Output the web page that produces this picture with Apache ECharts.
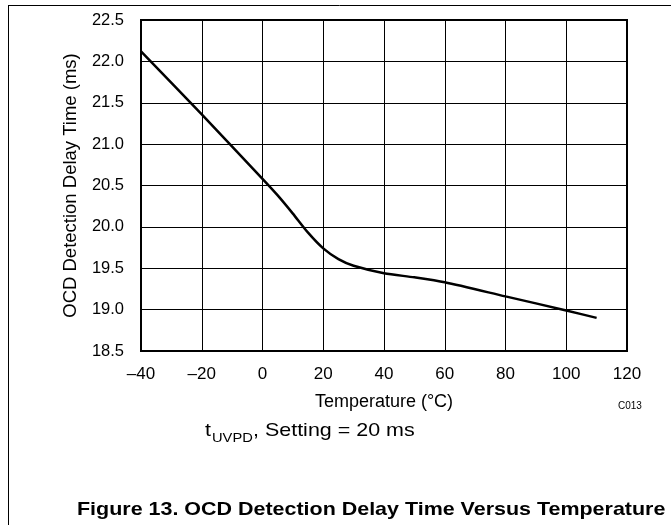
<!DOCTYPE html>
<html>
<head>
<meta charset="utf-8">
<script src="https://cdn.jsdelivr.net/npm/echarts@6/dist/echarts.min.js"></script>
<style>
  html, body { margin: 0; padding: 0; background: #fff; }
  #delayChart { width: 671px; height: 525px; }
</style>
</head>
<body>
<div id="delayChart"></div>
<script>
// temperature (°C) and OCD detection delay (ms)
const temps = [-40, -20, 0, 5, 10, 15, 20, 25, 30, 40, 50, 60, 80, 100, 110]
const delays = [22.12, 21.36, 20.58, 20.38, 20.16, 19.93, 19.74, 19.61, 19.53, 19.44, 19.39, 19.33, 19.16, 18.99, 18.90]
const yTicks = [18.5, 19.0, 19.5, 20.0, 20.5, 21.0, 21.5, 22.0, 22.5]
const xTicks = [-40, -20, 0, 20, 40, 60, 80, 100, 120]

const chart = echarts.init(document.getElementById('delayChart'))

const font = 'Liberation Sans, Arial, sans-serif'

const option = {
  backgroundColor: '#fff',
  animation: false,
  grid: {
    left: 141,
    right: 44,
    top: 20,
    bottom: 174
  },
  xAxis: {
    type: 'value',
    min: xTicks[0],
    max: xTicks[xTicks.length - 1],
    interval: 20,
    name: 'Temperature (°C)',
    nameLocation: 'middle',
    nameGap: 42,
    nameTextStyle: {
      fontFamily: font,
      fontSize: 18,
      color: '#000'
    },
    axisLine: { show: false },
    axisTick: { show: false },
    axisLabel: {
      fontFamily: font,
      fontSize: 17,
      color: '#000',
      margin: 15,
      formatter: v => (v < 0 ? '\u2013' + Math.abs(v) : String(v))
    },
    splitLine: { show: true, lineStyle: { color: '#000', width: 1 } }
  },
  yAxis: {
    type: 'value',
    min: yTicks[0],
    max: yTicks[yTicks.length - 1],
    interval: 0.5,
    name: 'OCD Detection Delay Time (ms)',
    nameLocation: 'middle',
    nameGap: 61,
    nameTextStyle: {
      fontFamily: font,
      fontSize: 18.5,
      color: '#000'
    },
    axisLine: { show: false },
    axisTick: { show: false },
    axisLabel: {
      fontFamily: font,
      fontSize: 16.5,
      color: '#000',
      margin: 17,
      formatter: v => v.toFixed(1)
    },
    splitLine: { show: true, lineStyle: { color: '#000', width: 1 } }
  },
  series: [
    {
      type: 'line',
      data: temps.map((t, i) => [t, delays[i]]),
      smooth: 0.25,
      showSymbol: false,
      lineStyle: { color: '#000', width: 2.5 },
      z: 3
    }
  ],
  graphic: [
    // outer frame (top + left only)
    { type: 'line', shape: { x1: 8, y1: 5.5, x2: 671, y2: 5.5 }, style: { stroke: '#000', lineWidth: 1 } },
    { type: 'line', shape: { x1: 8.5, y1: 5, x2: 8.5, y2: 525 }, style: { stroke: '#000', lineWidth: 1 } },
    // plot border
    {
      type: 'rect',
      shape: { x: 141, y: 20, width: 486, height: 331 },
      style: { fill: 'none', stroke: '#000', lineWidth: 2 },
      z: 10
    },
    {
      type: 'text',
      x: 618,
      y: 401,
      style: { text: 'C013', fontFamily: font, fontSize: 10, fill: '#000', verticalAlign: 'top' }
    },
    {
      type: 'text',
      x: 205,
      y: 421,
      scaleX: 1.13,
      style: { text: 't', fontFamily: font, fontSize: 19, fill: '#000', verticalAlign: 'top' }
    },
    {
      type: 'text',
      x: 212,
      y: 432,
      scaleX: 1.13,
      style: { text: 'UVPD', fontFamily: font, fontSize: 13, fill: '#000', verticalAlign: 'top' }
    },
    {
      type: 'text',
      x: 253,
      y: 421,
      scaleX: 1.13,
      style: { text: ', Setting = 20 ms', fontFamily: font, fontSize: 19, fill: '#000', verticalAlign: 'top' }
    },
    {
      type: 'text',
      x: 77,
      y: 500,
      scaleX: 1.16,
      style: {
        text: 'Figure 13. OCD Detection Delay Time Versus Temperature',
        fontFamily: font,
        fontSize: 18.5,
        fontWeight: 'bold',
        fill: '#000',
        verticalAlign: 'top'
      }
    }
  ]
}

option && chart.setOption(option)
</script>
</body>
</html>
